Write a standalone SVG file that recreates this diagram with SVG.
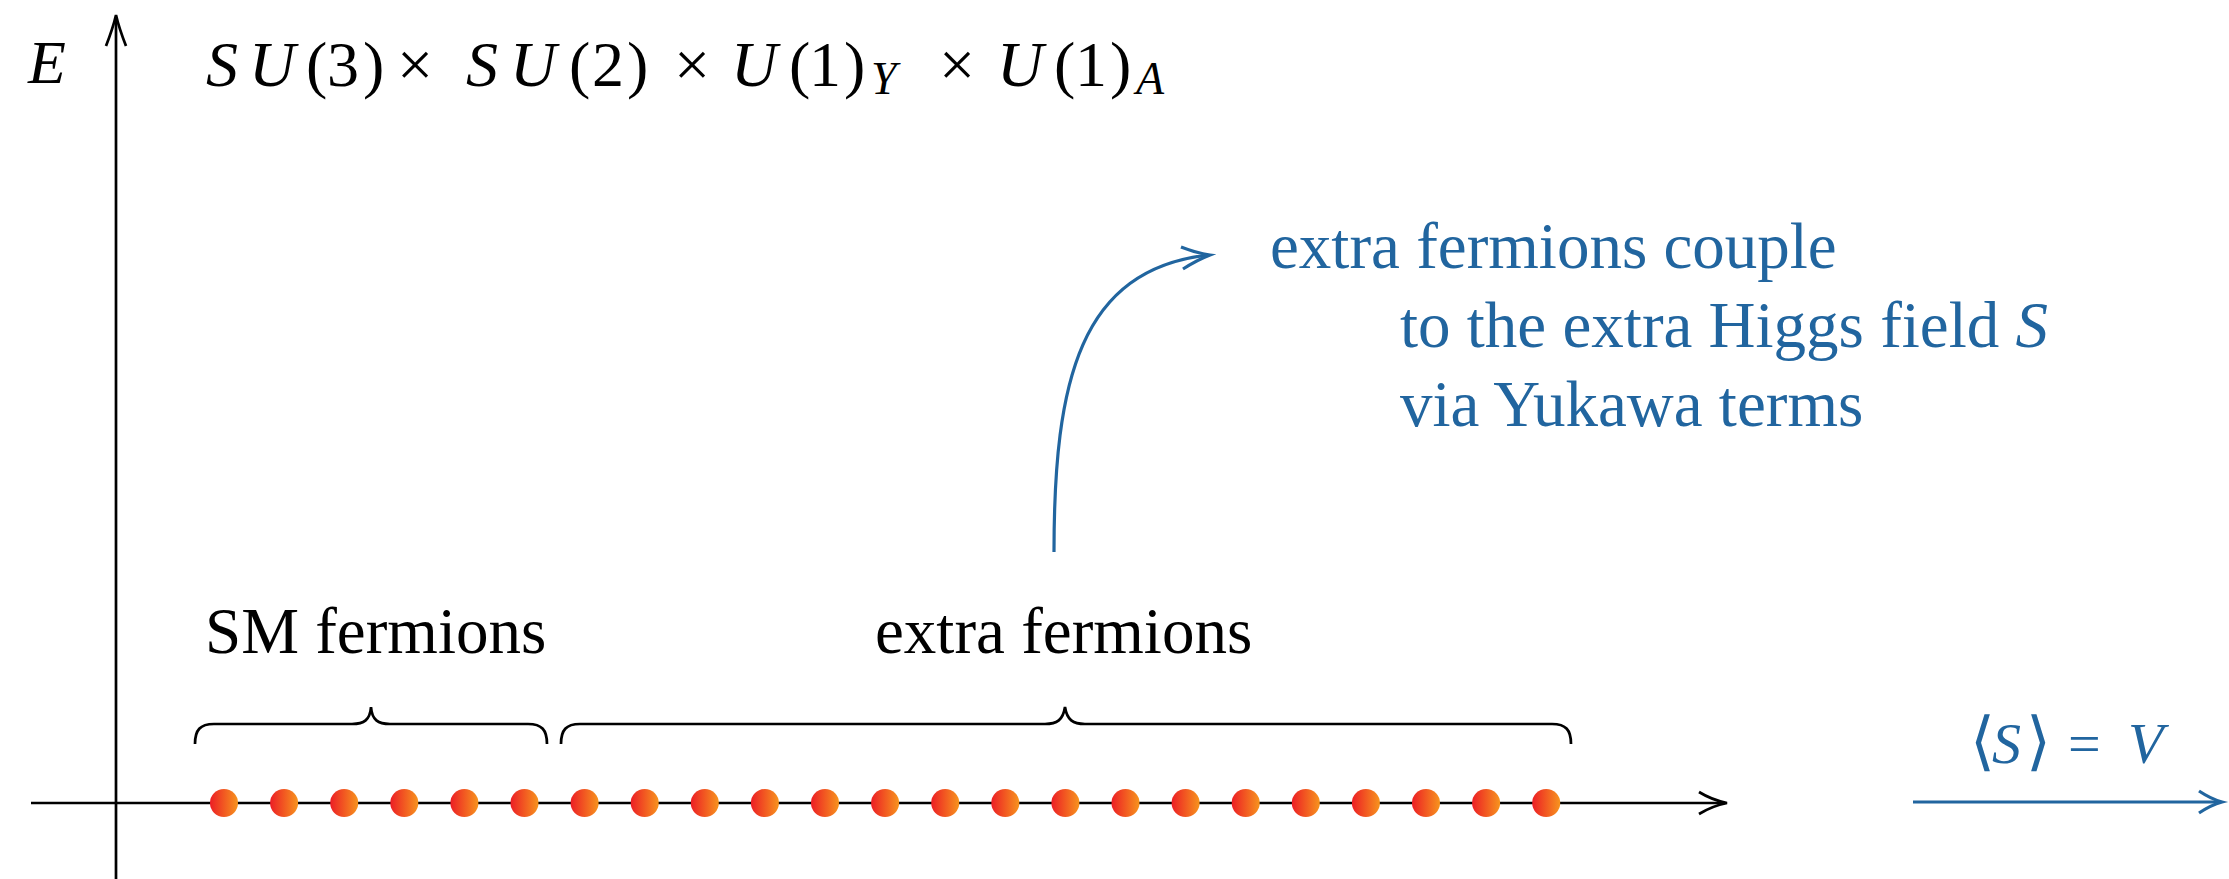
<svg xmlns="http://www.w3.org/2000/svg" width="2229" height="879" viewBox="0 0 2229 879">
<style>
.ax{fill:none;stroke:#000;stroke-width:2.7;stroke-linecap:butt}
.bl{fill:none;stroke:#21659f;stroke-width:3.2}
.br{fill:none;stroke:#000;stroke-width:2.7}
.t{font-family:"Liberation Serif","Times New Roman",serif;font-size:65px;fill:#000}
.tb{font-family:"Liberation Serif","Times New Roman",serif;font-size:65px;fill:#21659f}
.m{font-family:"Liberation Serif","Times New Roman",serif;font-size:64px;fill:#000}
.mb{font-family:"Liberation Serif","DejaVu Serif",serif;font-size:58px;fill:#21659f}
.i{font-style:italic}
.dot{fill:url(#g)}
</style>
<defs>
<linearGradient id="g" x1="0" y1="0" x2="1" y2="0">
<stop offset="0" stop-color="#ec1e25"/>
<stop offset="1" stop-color="#f7941e"/>
</linearGradient>
</defs>

<g id="axes">
<path class="ax" d="M116,879 L116,17"/>
<path class="ax" d="M106,46 Q113,28 116,15 Q119,28 126,46"/>
<path class="ax" d="M31,803 L1725,803"/>
<path class="ax" d="M1699,792 Q1712,800 1727,803 Q1712,806 1699,814"/>
<text class="m i" style="font-size:62px" x="28" y="83">E</text>
</g>

<g id="title">
<text class="m" y="86"><tspan class="i" x="206">S</tspan><tspan class="i" x="249">U</tspan><tspan x="306">(</tspan><tspan x="327">3</tspan><tspan x="363">)</tspan><tspan x="397">×</tspan><tspan class="i" x="466">S</tspan><tspan class="i" x="510">U</tspan><tspan x="569">(</tspan><tspan x="592">2</tspan><tspan x="627">)</tspan><tspan x="674">×</tspan><tspan class="i" x="731">U</tspan><tspan x="789">(</tspan><tspan x="809">1</tspan><tspan x="844">)</tspan><tspan x="939">×</tspan><tspan class="i" x="997">U</tspan><tspan x="1054">(</tspan><tspan x="1075">1</tspan><tspan x="1110">)</tspan></text>
<text class="m i" style="font-size:46px" x="871" y="94">Y</text>
<text class="m i" style="font-size:46px" x="1136" y="94">A</text>
</g>

<g id="sm-fermions">
<path class="br" d="M195,744 C195,730 200,724 214,724 L352,724 C364,724 370,720 371,707 C372,720 378,724 390,724 L528,724 C542,724 547,730 547,744"/>
<text class="t" x="205" y="653">SM fermions</text>
</g>

<g id="extra-fermions">
<path class="br" d="M561,744 C561,730 566,724 580,724 L1045,724 C1057,724 1063,720 1065,707 C1067,720 1073,724 1085,724 L1552,724 C1566,724 1571,730 1571,744"/>
<text class="t" x="875" y="653">extra fermions</text>
</g>

<g id="dots">
<circle class="dot" cx="224" cy="803" r="14"/>
<circle class="dot" cx="284.1" cy="803" r="14"/>
<circle class="dot" cx="344.2" cy="803" r="14"/>
<circle class="dot" cx="404.3" cy="803" r="14"/>
<circle class="dot" cx="464.4" cy="803" r="14"/>
<circle class="dot" cx="524.5" cy="803" r="14"/>
<circle class="dot" cx="584.6" cy="803" r="14"/>
<circle class="dot" cx="644.7" cy="803" r="14"/>
<circle class="dot" cx="704.8" cy="803" r="14"/>
<circle class="dot" cx="764.9" cy="803" r="14"/>
<circle class="dot" cx="825" cy="803" r="14"/>
<circle class="dot" cx="885.1" cy="803" r="14"/>
<circle class="dot" cx="945.2" cy="803" r="14"/>
<circle class="dot" cx="1005.3" cy="803" r="14"/>
<circle class="dot" cx="1065.4" cy="803" r="14"/>
<circle class="dot" cx="1125.5" cy="803" r="14"/>
<circle class="dot" cx="1185.6" cy="803" r="14"/>
<circle class="dot" cx="1245.7" cy="803" r="14"/>
<circle class="dot" cx="1305.8" cy="803" r="14"/>
<circle class="dot" cx="1365.9" cy="803" r="14"/>
<circle class="dot" cx="1426" cy="803" r="14"/>
<circle class="dot" cx="1486.1" cy="803" r="14"/>
<circle class="dot" cx="1546.2" cy="803" r="14"/>
</g>

<g id="coupling-note">
<text class="tb" x="1270" y="268">extra fermions couple</text>
<text class="tb" x="1400" y="347">to the extra Higgs field <tspan class="i">S</tspan></text>
<text class="tb" x="1400" y="426">via Yukawa terms</text>
</g>

<g id="vev">
<text class="mb" y="763"><tspan x="1970" style="font-size:64px">⟨</tspan><tspan class="i" x="1992">S</tspan><tspan x="2026" style="font-size:64px">⟩</tspan><tspan x="2068">=</tspan><tspan class="i" x="2128">V</tspan></text>
</g>

<g id="connectors">
<path class="bl" d="M1054,552 C1054,380 1080,270 1208,255"/>
<path class="bl" d="M1181,247 Q1196,253 1210,255 Q1197,260 1183,269"/>
<path class="bl" d="M1913,802 L2220,802"/>
<path class="bl" d="M2199,791 Q2211,799 2222,802 Q2211,805 2199,813"/>
</g>
</svg>
